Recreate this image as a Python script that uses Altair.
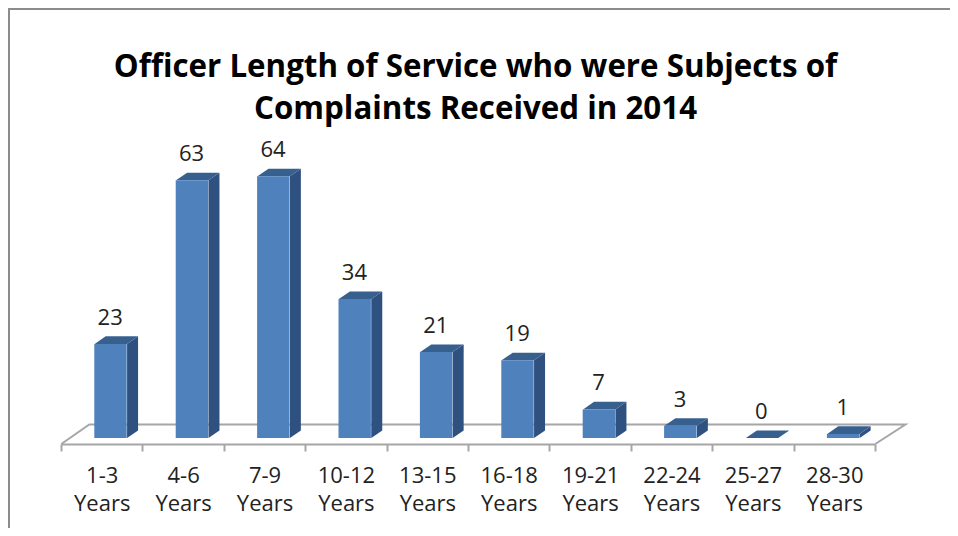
import altair as alt
import pandas as pd

categories = ["1-3 Years", "4-6 Years", "7-9 Years", "10-12 Years", "13-15 Years",
              "16-18 Years", "19-21 Years", "22-24 Years", "25-27 Years", "28-30 Years"]
values = [23, 63, 64, 34, 21, 19, 7, 3, 0, 1]

FONT = "Open Sans"
W, H = 942, 520
BAR_L, BAR_R = 0.41, 0.808   # bar extent within a category (category units)
DX, DY = 0.135, 1.85         # 3D depth
FLOOR_FRONT, FLOOR_BACK = -1.47, 3.3
X_DOM = [-0.655, 10.918]
Y_DOM = [-22.0, 105.13]

bars = pd.DataFrame({"cat": categories, "value": values})

side, top = [], []
for i, (c, v) in enumerate(zip(categories, values)):
    r, l = i + BAR_R, i + BAR_L
    side += [dict(cat=c, x=r, lo=0, hi=v), dict(cat=c, x=r + DX, lo=DY, hi=v + DY)]
    top += [dict(cat=c, x=l, lo=v, hi=v),
            dict(cat=c, x=l + DX, lo=v, hi=v + DY),
            dict(cat=c, x=r, lo=v, hi=v + DY),
            dict(cat=c, x=r + DX, lo=v + DY, hi=v + DY)]
floor = pd.DataFrame({"x": [0, 0.344, 10.37, 10],
                      "y": [FLOOR_FRONT, FLOOR_BACK, FLOOR_BACK, FLOOR_FRONT],
                      "o": [0, 1, 2, 3]})

xq = alt.X("x:Q", scale=alt.Scale(domain=X_DOM), axis=None)
y_scale = alt.Scale(domain=Y_DOM, nice=False, zero=False)
yq = alt.Y("lo:Q", scale=y_scale, axis=None)

frame_left = alt.Chart(bars).mark_rule(color="#8c8c8c", strokeWidth=2).encode(
    x=alt.value(1), y=alt.value(0), y2=alt.value(H))
frame_top = alt.Chart(bars).mark_rule(color="#8c8c8c", strokeWidth=2).encode(
    y=alt.value(1), x=alt.value(0), x2=alt.value(W))

floor_line = alt.Chart(floor).mark_line(color="#a6a6a6", strokeWidth=2).encode(
    x=xq, y=alt.Y("y:Q", scale=y_scale, axis=None), order="o:Q")

side_area = alt.Chart(pd.DataFrame(side)).mark_area(color="#2f5180", orient="vertical").encode(
    x=xq, y=yq, y2="hi:Q", detail="cat:N")
top_area = alt.Chart(pd.DataFrame(top)).mark_area(color="#37608f", orient="vertical").encode(
    x=xq, y=yq, y2="hi:Q", detail="cat:N")

x_band = alt.X("cat:N", sort=categories,
               scale=alt.Scale(domain=categories, range=[53, 867], paddingInner=0, paddingOuter=0),
               axis=alt.Axis(title=None, orient="bottom", offset=-84, labelAngle=0, tickBand="extent",
                             labelExpr="split(datum.label, ' ')", labelFontSize=22, labelFont=FONT,
                             labelColor="#222222", labelLineHeight=28, labelPadding=14,
                             labelBaseline="top", labelAlign="center", labelLimit=0,
                             domainColor="#a6a6a6", domainWidth=2, tickColor="#a6a6a6",
                             tickWidth=2, tickSize=7, grid=False))

front = alt.Chart(bars).mark_bar(color="#4f81bd", size=32.4, xOffset=8.8).encode(
    x=x_band, y=alt.Y("value:Q", scale=y_scale, axis=None), y2=alt.datum(0))
labels = alt.Chart(bars).mark_text(font=FONT, fontSize=22, color="#222222", dx=8.5, dy=-26,
                                   baseline="middle").encode(
    x=alt.X("cat:N", sort=categories,
            scale=alt.Scale(domain=categories, range=[53, 867], paddingInner=0, paddingOuter=0),
            axis=None),
    y=alt.Y("value:Q", scale=y_scale, axis=None), text="value:Q")

q_layers = alt.layer(frame_left, frame_top, floor_line, side_area, top_area)
chart = alt.layer(q_layers, front, labels).resolve_scale(x="independent").properties(
    width=W, height=H, padding=0,
    autosize=alt.AutoSizeParams(type="none"),
    title=alt.TitleParams(
        text=["Officer Length of Service who were Subjects of", "Complaints Received in 2014"],
        font=FONT, fontSize=31.3, fontWeight="bold", color="#000000", lineHeight=42,
        anchor="middle", dx=-3.5, offset=-118),
).configure_view(stroke=None)

chart.save("out.html", embed_options={"renderer": "svg", "actions": False})
